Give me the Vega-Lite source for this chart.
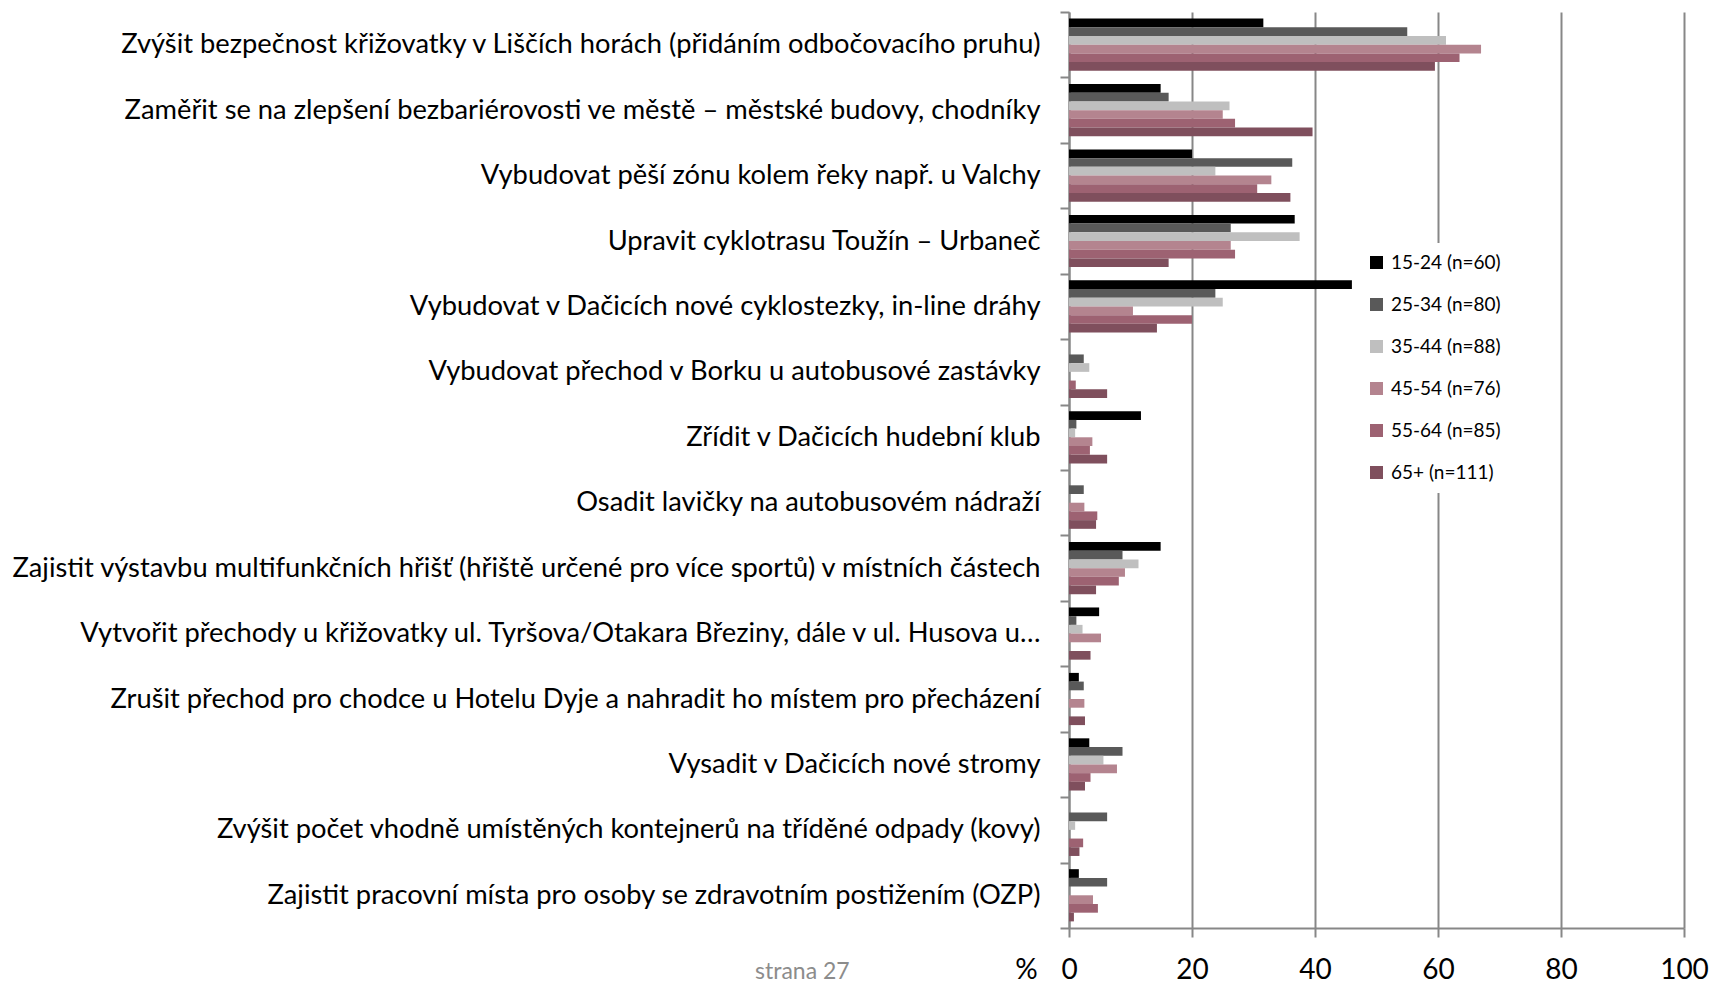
{
  "$schema": "https://vega.github.io/schema/vega-lite/v6.json",
  "width": 615,
  "height": 916,
  "autosize": {"type": "none"},
  "padding": {"left": 1069, "top": 12, "right": 27, "bottom": 55},
  "background": "white",
  "config": {"view": {"stroke": null}, "font": "Lato"},
  "title": {"text": "strana 27", "orient": "bottom", "anchor": "start", "frame": "group", "dx": -314, "dy": -27, "fontSize": 23, "fontWeight": "normal", "color": "#8c8c8c", "font": "Lato"},
  "data": {"values": [
    {"q": "Zvýšit bezpečnost křižovatky v Liščích horách (přidáním odbočovacího pruhu)", "g": "15-24 (n=60)", "v": 31.6},
    {"q": "Zvýšit bezpečnost křižovatky v Liščích horách (přidáním odbočovacího pruhu)", "g": "25-34 (n=80)", "v": 55.0},
    {"q": "Zvýšit bezpečnost křižovatky v Liščích horách (přidáním odbočovacího pruhu)", "g": "35-44 (n=88)", "v": 61.3},
    {"q": "Zvýšit bezpečnost křižovatky v Liščích horách (přidáním odbočovacího pruhu)", "g": "45-54 (n=76)", "v": 67.0},
    {"q": "Zvýšit bezpečnost křižovatky v Liščích horách (přidáním odbočovacího pruhu)", "g": "55-64 (n=85)", "v": 63.5},
    {"q": "Zvýšit bezpečnost křižovatky v Liščích horách (přidáním odbočovacího pruhu)", "g": "65+ (n=111)", "v": 59.5},
    {"q": "Zaměřit se na zlepšení bezbariérovosti ve městě – městské budovy, chodníky", "g": "15-24 (n=60)", "v": 14.9},
    {"q": "Zaměřit se na zlepšení bezbariérovosti ve městě – městské budovy, chodníky", "g": "25-34 (n=80)", "v": 16.2},
    {"q": "Zaměřit se na zlepšení bezbariérovosti ve městě – městské budovy, chodníky", "g": "35-44 (n=88)", "v": 26.1},
    {"q": "Zaměřit se na zlepšení bezbariérovosti ve městě – městské budovy, chodníky", "g": "45-54 (n=76)", "v": 25.0},
    {"q": "Zaměřit se na zlepšení bezbariérovosti ve městě – městské budovy, chodníky", "g": "55-64 (n=85)", "v": 27.0},
    {"q": "Zaměřit se na zlepšení bezbariérovosti ve městě – městské budovy, chodníky", "g": "65+ (n=111)", "v": 39.6},
    {"q": "Vybudovat pěší zónu kolem řeky např. u Valchy", "g": "15-24 (n=60)", "v": 20.0},
    {"q": "Vybudovat pěší zónu kolem řeky např. u Valchy", "g": "25-34 (n=80)", "v": 36.3},
    {"q": "Vybudovat pěší zónu kolem řeky např. u Valchy", "g": "35-44 (n=88)", "v": 23.8},
    {"q": "Vybudovat pěší zónu kolem řeky např. u Valchy", "g": "45-54 (n=76)", "v": 32.9},
    {"q": "Vybudovat pěší zónu kolem řeky např. u Valchy", "g": "55-64 (n=85)", "v": 30.6},
    {"q": "Vybudovat pěší zónu kolem řeky např. u Valchy", "g": "65+ (n=111)", "v": 36.0},
    {"q": "Upravit cyklotrasu Toužín – Urbaneč", "g": "15-24 (n=60)", "v": 36.7},
    {"q": "Upravit cyklotrasu Toužín – Urbaneč", "g": "25-34 (n=80)", "v": 26.3},
    {"q": "Upravit cyklotrasu Toužín – Urbaneč", "g": "35-44 (n=88)", "v": 37.5},
    {"q": "Upravit cyklotrasu Toužín – Urbaneč", "g": "45-54 (n=76)", "v": 26.3},
    {"q": "Upravit cyklotrasu Toužín – Urbaneč", "g": "55-64 (n=85)", "v": 27.0},
    {"q": "Upravit cyklotrasu Toužín – Urbaneč", "g": "65+ (n=111)", "v": 16.2},
    {"q": "Vybudovat v Dačicích nové cyklostezky, in-line dráhy", "g": "15-24 (n=60)", "v": 46.0},
    {"q": "Vybudovat v Dačicích nové cyklostezky, in-line dráhy", "g": "25-34 (n=80)", "v": 23.8},
    {"q": "Vybudovat v Dačicích nové cyklostezky, in-line dráhy", "g": "35-44 (n=88)", "v": 25.0},
    {"q": "Vybudovat v Dačicích nové cyklostezky, in-line dráhy", "g": "45-54 (n=76)", "v": 10.4},
    {"q": "Vybudovat v Dačicích nové cyklostezky, in-line dráhy", "g": "55-64 (n=85)", "v": 20.0},
    {"q": "Vybudovat v Dačicích nové cyklostezky, in-line dráhy", "g": "65+ (n=111)", "v": 14.3},
    {"q": "Vybudovat přechod v Borku u autobusové zastávky", "g": "15-24 (n=60)", "v": 0},
    {"q": "Vybudovat přechod v Borku u autobusové zastávky", "g": "25-34 (n=80)", "v": 2.4},
    {"q": "Vybudovat přechod v Borku u autobusové zastávky", "g": "35-44 (n=88)", "v": 3.3},
    {"q": "Vybudovat přechod v Borku u autobusové zastávky", "g": "45-54 (n=76)", "v": 0},
    {"q": "Vybudovat přechod v Borku u autobusové zastávky", "g": "55-64 (n=85)", "v": 1.1},
    {"q": "Vybudovat přechod v Borku u autobusové zastávky", "g": "65+ (n=111)", "v": 6.2},
    {"q": "Zřídit v Dačicích hudební klub", "g": "15-24 (n=60)", "v": 11.7},
    {"q": "Zřídit v Dačicích hudební klub", "g": "25-34 (n=80)", "v": 1.2},
    {"q": "Zřídit v Dačicích hudební klub", "g": "35-44 (n=88)", "v": 1.0},
    {"q": "Zřídit v Dačicích hudební klub", "g": "45-54 (n=76)", "v": 3.8},
    {"q": "Zřídit v Dačicích hudební klub", "g": "55-64 (n=85)", "v": 3.4},
    {"q": "Zřídit v Dačicích hudební klub", "g": "65+ (n=111)", "v": 6.2},
    {"q": "Osadit lavičky na autobusovém nádraží", "g": "15-24 (n=60)", "v": 0},
    {"q": "Osadit lavičky na autobusovém nádraží", "g": "25-34 (n=80)", "v": 2.4},
    {"q": "Osadit lavičky na autobusovém nádraží", "g": "35-44 (n=88)", "v": 0},
    {"q": "Osadit lavičky na autobusovém nádraží", "g": "45-54 (n=76)", "v": 2.5},
    {"q": "Osadit lavičky na autobusovém nádraží", "g": "55-64 (n=85)", "v": 4.6},
    {"q": "Osadit lavičky na autobusovém nádraží", "g": "65+ (n=111)", "v": 4.4},
    {"q": "Zajistit výstavbu multifunkčních hřišť (hřiště určené pro více sportů) v místních částech", "g": "15-24 (n=60)", "v": 14.9},
    {"q": "Zajistit výstavbu multifunkčních hřišť (hřiště určené pro více sportů) v místních částech", "g": "25-34 (n=80)", "v": 8.7},
    {"q": "Zajistit výstavbu multifunkčních hřišť (hřiště určené pro více sportů) v místních částech", "g": "35-44 (n=88)", "v": 11.3},
    {"q": "Zajistit výstavbu multifunkčních hřišť (hřiště určené pro více sportů) v místních částech", "g": "45-54 (n=76)", "v": 9.1},
    {"q": "Zajistit výstavbu multifunkčních hřišť (hřiště určené pro více sportů) v místních částech", "g": "55-64 (n=85)", "v": 8.1},
    {"q": "Zajistit výstavbu multifunkčních hřišť (hřiště určené pro více sportů) v místních částech", "g": "65+ (n=111)", "v": 4.4},
    {"q": "Vytvořit přechody u křižovatky ul. Tyršova/Otakara Březiny, dále v ul. Husova u…", "g": "15-24 (n=60)", "v": 4.9},
    {"q": "Vytvořit přechody u křižovatky ul. Tyršova/Otakara Březiny, dále v ul. Husova u…", "g": "25-34 (n=80)", "v": 1.2},
    {"q": "Vytvořit přechody u křižovatky ul. Tyršova/Otakara Březiny, dále v ul. Husova u…", "g": "35-44 (n=88)", "v": 2.2},
    {"q": "Vytvořit přechody u křižovatky ul. Tyršova/Otakara Březiny, dále v ul. Husova u…", "g": "45-54 (n=76)", "v": 5.2},
    {"q": "Vytvořit přechody u křižovatky ul. Tyršova/Otakara Březiny, dále v ul. Husova u…", "g": "55-64 (n=85)", "v": 0},
    {"q": "Vytvořit přechody u křižovatky ul. Tyršova/Otakara Březiny, dále v ul. Husova u…", "g": "65+ (n=111)", "v": 3.5},
    {"q": "Zrušit přechod pro chodce u Hotelu Dyje a nahradit ho místem pro přecházení", "g": "15-24 (n=60)", "v": 1.6},
    {"q": "Zrušit přechod pro chodce u Hotelu Dyje a nahradit ho místem pro přecházení", "g": "25-34 (n=80)", "v": 2.4},
    {"q": "Zrušit přechod pro chodce u Hotelu Dyje a nahradit ho místem pro přecházení", "g": "35-44 (n=88)", "v": 0},
    {"q": "Zrušit přechod pro chodce u Hotelu Dyje a nahradit ho místem pro přecházení", "g": "45-54 (n=76)", "v": 2.5},
    {"q": "Zrušit přechod pro chodce u Hotelu Dyje a nahradit ho místem pro přecházení", "g": "55-64 (n=85)", "v": 0},
    {"q": "Zrušit přechod pro chodce u Hotelu Dyje a nahradit ho místem pro přecházení", "g": "65+ (n=111)", "v": 2.6},
    {"q": "Vysadit v Dačicích nové stromy ", "g": "15-24 (n=60)", "v": 3.3},
    {"q": "Vysadit v Dačicích nové stromy ", "g": "25-34 (n=80)", "v": 8.7},
    {"q": "Vysadit v Dačicích nové stromy ", "g": "35-44 (n=88)", "v": 5.6},
    {"q": "Vysadit v Dačicích nové stromy ", "g": "45-54 (n=76)", "v": 7.8},
    {"q": "Vysadit v Dačicích nové stromy ", "g": "55-64 (n=85)", "v": 3.5},
    {"q": "Vysadit v Dačicích nové stromy ", "g": "65+ (n=111)", "v": 2.6},
    {"q": "Zvýšit počet vhodně umístěných kontejnerů na tříděné odpady (kovy)", "g": "15-24 (n=60)", "v": 0},
    {"q": "Zvýšit počet vhodně umístěných kontejnerů na tříděné odpady (kovy)", "g": "25-34 (n=80)", "v": 6.2},
    {"q": "Zvýšit počet vhodně umístěných kontejnerů na tříděné odpady (kovy)", "g": "35-44 (n=88)", "v": 1.0},
    {"q": "Zvýšit počet vhodně umístěných kontejnerů na tříděné odpady (kovy)", "g": "45-54 (n=76)", "v": 0},
    {"q": "Zvýšit počet vhodně umístěných kontejnerů na tříděné odpady (kovy)", "g": "55-64 (n=85)", "v": 2.3},
    {"q": "Zvýšit počet vhodně umístěných kontejnerů na tříděné odpady (kovy)", "g": "65+ (n=111)", "v": 1.7},
    {"q": "Zajistit pracovní místa pro osoby se zdravotním postižením (OZP)", "g": "15-24 (n=60)", "v": 1.6},
    {"q": "Zajistit pracovní místa pro osoby se zdravotním postižením (OZP)", "g": "25-34 (n=80)", "v": 6.2},
    {"q": "Zajistit pracovní místa pro osoby se zdravotním postižením (OZP)", "g": "35-44 (n=88)", "v": 0},
    {"q": "Zajistit pracovní místa pro osoby se zdravotním postižením (OZP)", "g": "45-54 (n=76)", "v": 3.9},
    {"q": "Zajistit pracovní místa pro osoby se zdravotním postižením (OZP)", "g": "55-64 (n=85)", "v": 4.7},
    {"q": "Zajistit pracovní místa pro osoby se zdravotním postižením (OZP)", "g": "65+ (n=111)", "v": 0.8}
  ]},
  "mark": {"type": "bar"},
  "encoding": {
    "y": {
      "field": "q", "type": "nominal", "sort": null,
      "scale": {"paddingInner": 0, "paddingOuter": 0},
      "axis": {"title": null, "tickBand": "extent", "grid": false, "domainColor": "#878787", "domainWidth": 2, "tickColor": "#878787", "tickWidth": 2, "tickSize": 9, "labelFont": "Lato", "labelFontSize": 27.3, "labelColor": "black", "labelPadding": 20, "labelLimit": 1100}
    },
    "yOffset": {
      "field": "g", "type": "nominal",
      "sort": ["15-24 (n=60)", "25-34 (n=80)", "35-44 (n=88)", "45-54 (n=76)", "55-64 (n=85)", "65+ (n=111)"],
      "scale": {"paddingInner": 0, "paddingOuter": 0.76}
    },
    "x": {
      "field": "v", "type": "quantitative",
      "scale": {"domain": [0, 100], "nice": false},
      "axis": {"values": [0, 20, 40, 60, 80, 100], "grid": true, "gridColor": "#878787", "gridWidth": 2, "domainColor": "#878787", "domainWidth": 2, "tickColor": "#878787", "tickWidth": 2, "tickSize": 9, "labelFont": "Lato", "labelFontSize": 28, "labelColor": "black", "labelBaseline": "alphabetic", "labelPadding": 41, "labelFlush": false, "labelOverlap": false, "title": "%", "titleFont": "Lato", "titleFontSize": 28, "titleFontWeight": "normal", "titleColor": "black", "titleX": -43, "titleY": 50, "titleBaseline": "alphabetic", "titleAlign": "center", "titleAngle": 0}
    },
    "color": {
      "field": "g", "type": "nominal",
      "scale": {"domain": ["15-24 (n=60)", "25-34 (n=80)", "35-44 (n=88)", "45-54 (n=76)", "55-64 (n=85)", "65+ (n=111)"], "range": ["#000000", "#595959", "#bfbfbf", "#b4848f", "#9d6272", "#7f4f5d"]},
      "legend": {"orient": "none", "legendX": 288, "legendY": 231, "title": null, "symbolType": "square", "symbolSize": 169, "symbolStrokeWidth": 0, "labelFont": "Lato", "labelFontSize": 19, "labelColor": "black", "rowPadding": 22, "fillColor": "white", "padding": 10, "labelOffset": 5}
    }
  }
}
